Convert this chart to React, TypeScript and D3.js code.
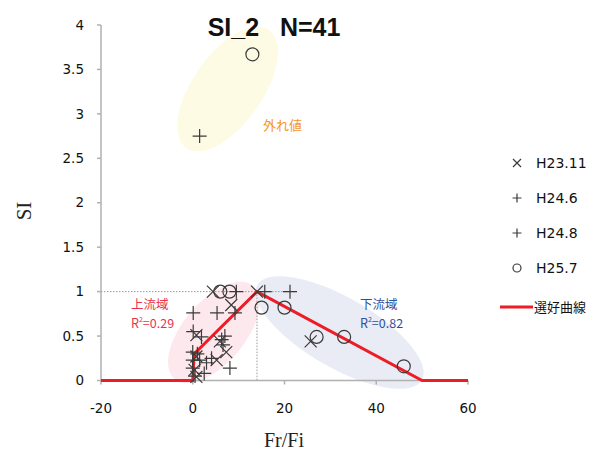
import React from 'react';
import * as d3 from 'd3';

// data
const h2311 = [
  [14, 1], [4.4, 1], [8.4, 0.85], [0.8, 0.51], [5.9, 0.44], [7.3, 0.32],
  [5.2, 0.23], [0.8, 0.27], [0.8, 0.04], [0.4, 0.12], [25.7, 0.44],
];
const h246 = [
  [1.5, 2.75], [0.1, 0.76], [5.3, 0.76], [9.2, 0.76], [9.5, 1], [15.7, 1],
  [21.2, 1], [0.1, 0.55], [1.9, 0.49], [0, 0.32], [0, 0.23],
];
const h248 = [
  [0, 0.14], [4.1, 0.25], [6.6, 0.4], [8.1, 0.14], [6.3, 0.46], [1.5, 0.23],
  [0.5, 0.05], [1, 0.3], [3, 0.2], [2.5, 0.08], [7, 0.5],
];
const h257 = [
  [6, 1], [8, 1], [13, 3.67], [15, 0.82], [20, 0.82], [27, 0.49], [33, 0.49], [46, 0.16],
];
const curve = [[-20, 0], [0, 0], [0.3, 0.3], [14, 1], [50, 0], [60, 0]];

const xTicks = [-20, 0, 20, 40, 60];
const yTicks = [0, 0.5, 1, 1.5, 2, 2.5, 3, 3.5, 4];
const legendLabels = ['H23.11', 'H24.6', 'H24.8', 'H25.7', '選好曲線'];

const W = 598;
const H = 456;
const tickFont = 'Verdana, "DejaVu Sans", sans-serif';
const jpFont = '"Noto Sans CJK JP", sans-serif';
const ink = '#3a3a3a';

const x = d3.scaleLinear().domain([-20, 60]).range([101, 468]);
const y = d3.scaleLinear().domain([0, 4]).range([380.5, 25]);

const Cross = ({ cx, cy, s = 6 }) => (
  <path d={`M${cx - s},${cy - s}L${cx + s},${cy + s}M${cx - s},${cy + s}L${cx + s},${cy - s}`}
    stroke={ink} strokeWidth={1.2} fill="none" />
);
const Plus = ({ cx, cy, s = 7 }) => (
  <path d={`M${cx - s},${cy}L${cx + s},${cy}M${cx},${cy - s}L${cx},${cy + s}`}
    stroke={ink} strokeWidth={1.2} fill="none" />
);
const Ring = ({ cx, cy, r = 6.5 }) => (
  <circle cx={cx} cy={cy} r={r} stroke={ink} strokeWidth={1.2} fill="none" />
);

export default function App() {
  const line = d3.line().x(d => x(d[0])).y(d => y(d[1]));

  return (
    <div style={{ position: 'absolute', left: 0, top: 0 }}>
      <svg width={W} height={H} style={{ display: 'block', background: '#fff' }}>
        {/* shaded groups */}
        <ellipse cx={x(7.6)} cy={y(3.28)} rx={72} ry={35} fill="#fdfbe4"
          transform={`rotate(-55 ${x(7.6)} ${y(3.28)})`} />
        <ellipse cx={x(4.6)} cy={y(0.54)} rx={61} ry={31} fill="#fde9ed"
          transform={`rotate(-50 ${x(4.6)} ${y(0.54)})`} />
        <ellipse cx={x(32)} cy={y(0.54)} rx={95} ry={35} fill="#e9ecf5"
          transform={`rotate(30 ${x(32)} ${y(0.54)})`} />

        {/* reference lines */}
        <line x1={x(-20)} x2={x(22.5)} y1={y(1)} y2={y(1)} stroke="#999" strokeWidth={1} strokeDasharray="1.5,1.5" />
        <line x1={x(14)} x2={x(14)} y1={y(1)} y2={y(0)} stroke="#999" strokeWidth={1} strokeDasharray="1.5,1.5" />

        {/* axes */}
        <line x1={x(-20)} x2={x(-20)} y1={y(4)} y2={y(0)} stroke="#b0b0b0" strokeWidth={1.5} />
        <line x1={x(-20)} x2={x(60)} y1={y(0)} y2={y(0)} stroke="#b0b0b0" strokeWidth={1.5} />
        {yTicks.map(t => (
          <g key={t}>
            <line x1={x(-20) - 4} x2={x(-20)} y1={y(t)} y2={y(t)} stroke="#b0b0b0" strokeWidth={1.5} />
            <text x={84} y={y(t)} dy="0.35em" textAnchor="end" fontSize={13.5} fontFamily={tickFont} fill="#111">{t}</text>
          </g>
        ))}
        {xTicks.map(t => (
          <g key={t}>
            <line x1={x(t)} x2={x(t)} y1={y(0)} y2={y(0) + 4} stroke="#b0b0b0" strokeWidth={1.5} />
            <text x={x(t)} y={413} textAnchor="middle" fontSize={13.5} fontFamily={tickFont} fill="#111">{t}</text>
          </g>
        ))}

        {/* preference curve */}
        <path d={line(curve)} stroke="#ee1c25" strokeWidth={3} fill="none" />

        {/* points */}
        {h2311.map((d, i) => <Cross key={'a' + i} cx={x(d[0])} cy={y(d[1])} />)}
        {h246.map((d, i) => <Plus key={'b' + i} cx={x(d[0])} cy={y(d[1])} />)}
        {h248.map((d, i) => <Plus key={'c' + i} cx={x(d[0])} cy={y(d[1])} />)}
        {h257.map((d, i) => <Ring key={'d' + i} cx={x(d[0])} cy={y(d[1])} />)}

        {/* annotations */}
        <text x={263} y={130} fontSize={13} fill="#f7941d" fontFamily={jpFont}>外れ値</text>
        <g fill="#e8344e" fontSize={12.5} fontFamily={jpFont}>
          <text x={131} y={309}>上流域</text>
          <text x={131} y={328}>R<tspan fontSize={7} dy={-6}>2</tspan><tspan dy={6}>=0.29</tspan></text>
        </g>
        <g fill="#2e4f9c" fontSize={12.5} fontFamily={jpFont}>
          <text x={360} y={309}>下流域</text>
          <text x={360} y={328}>R<tspan fontSize={7} dy={-6}>2</tspan><tspan dy={6}>=0.82</tspan></text>
        </g>

        {/* title */}
        <text x={274} y={36} textAnchor="middle" fontSize={25} fontWeight="bold"
          fontFamily='"Liberation Sans", Arial, sans-serif' fill="#111" xmlSpace="preserve">SI_2   N=41</text>

        {/* axis titles */}
        <text transform="translate(31,211) rotate(-90)" textAnchor="middle" fontSize={21}
          fontFamily='"Liberation Serif", "DejaVu Serif", serif' fill="#222">SI</text>
        <text x={284} y={447} textAnchor="middle" fontSize={20}
          fontFamily='"Liberation Serif", "DejaVu Serif", serif' fill="#222">Fr/Fi</text>

        {/* legend */}
        <g fontSize={14} fontFamily={tickFont} fill="#111">
          <Cross cx={517} cy={163} s={4} />
          <text x={536} y={163} dy="0.35em">{legendLabels[0]}</text>
          <Plus cx={517} cy={198} s={4.5} />
          <text x={536} y={198} dy="0.35em">{legendLabels[1]}</text>
          <Plus cx={517} cy={233} s={4.5} />
          <text x={536} y={233} dy="0.35em">{legendLabels[2]}</text>
          <Ring cx={517} cy={268} r={4} />
          <text x={536} y={268} dy="0.35em">{legendLabels[3]}</text>
          <line x1={500} x2={533} y1={307} y2={307} stroke="#ee1c25" strokeWidth={3} />
          <text x={534} y={307} dy="0.35em" fontSize={13} fontFamily={jpFont}>{legendLabels[4]}</text>
        </g>
      </svg>
    </div>
  );
}
